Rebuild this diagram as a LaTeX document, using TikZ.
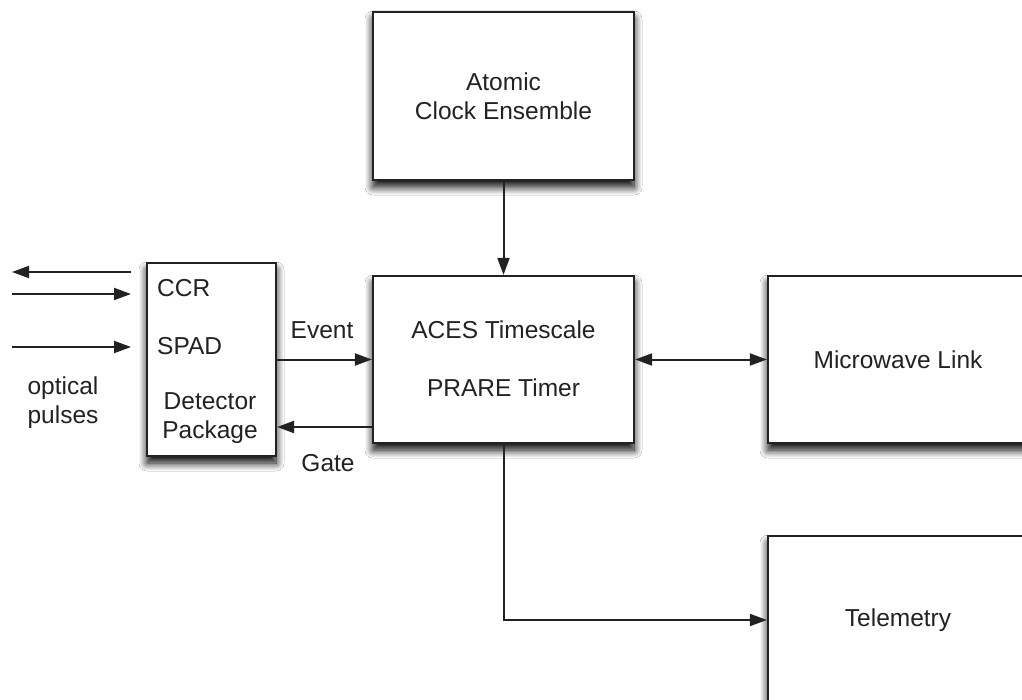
\documentclass[tikz,border=0pt]{standalone}
\usepackage{fontspec}
\setmainfont{Liberation Sans}
\usetikzlibrary{arrows.meta,shadows.blur}
\definecolor{ink}{HTML}{222222}
\tikzset{
  box/.style={draw=ink, line width=2.2pt, fill=white, rectangle,
    blur shadow={shadow xshift=0pt, shadow yshift=-7pt, shadow blur radius=8pt, shadow opacity=100, shadow blur steps=14}},
  txt/.style={text=ink, font=\fontsize{24.5}{29}\selectfont, align=center, inner sep=0pt},
  arr/.style={draw=ink, line width=2pt, -{Triangle[length=17pt,width=12pt]}},
  arrr/.style={draw=ink, line width=2pt, {Triangle[length=17pt,width=12pt]}-{Triangle[length=17pt,width=12pt]}},
}
\begin{document}
\begin{tikzpicture}[x=1pt,y=-1pt]
\useasboundingbox[fill=white] (0,0) rectangle (1022,700);
% boxes
\node[box, minimum width=261pt, minimum height=168pt] (clock) at (503.5,96) {};
\node[txt] (clockt) at (503.5,96) {Atomic\\Clock Ensemble};
\node[box, minimum width=261pt, minimum height=167pt] (aces) at (503.5,359.5) {};
\node[txt] (acest) at (503.5,359) {ACES Timescale\\[29pt]PRARE Timer};
\node[box, minimum width=129pt, minimum height=193pt] (det) at (211.5,359.5) {};
\node[txt, anchor=west] (ccr) at (157,288) {CCR};
\node[txt, anchor=west] (spad) at (157,346) {SPAD};
\node[txt] (dett) at (210,418) {Detector\\Package};
\node[box, minimum width=261pt, minimum height=167pt] (mw) at (898.5,359.5) {};
\node[txt] (mwt) at (898,360) {Microwave Link};
\node[box, minimum width=261pt, minimum height=168pt] (tel) at (898.5,620) {};
\node[txt] (telt) at (898,620) {Telemetry};
% free-end coordinates for optical arrows
\coordinate (o1a) at (131,272);
\coordinate (o1b) at (12,272);
\coordinate (o2a) at (12,294);
\coordinate (o2b) at (131,294);
\coordinate (o3a) at (12,347);
\coordinate (o3b) at (131,347);
\node[txt] (opt) at (63,403) {optical\\pulses};
% connectors
\draw[arr] (clock) -- (aces);
\draw[arr] (o1a) -- (o1b);
\draw[arr] (o2a) -- (o2b);
\draw[arr] (o3a) -- (o3b);
\draw[arr] (det.east |- aces.west) -- (aces.west);
\draw[arr] (aces.west |- 0,427) -- (det.east |- 0,427);
\node[txt] (event) at (322,330) {Event};
\node[txt] (gate) at (328,463) {Gate};
\draw[arrr] (aces) -- (mw);
\draw[arr] (aces.south) |- (tel.west);
\end{tikzpicture}
\end{document}
